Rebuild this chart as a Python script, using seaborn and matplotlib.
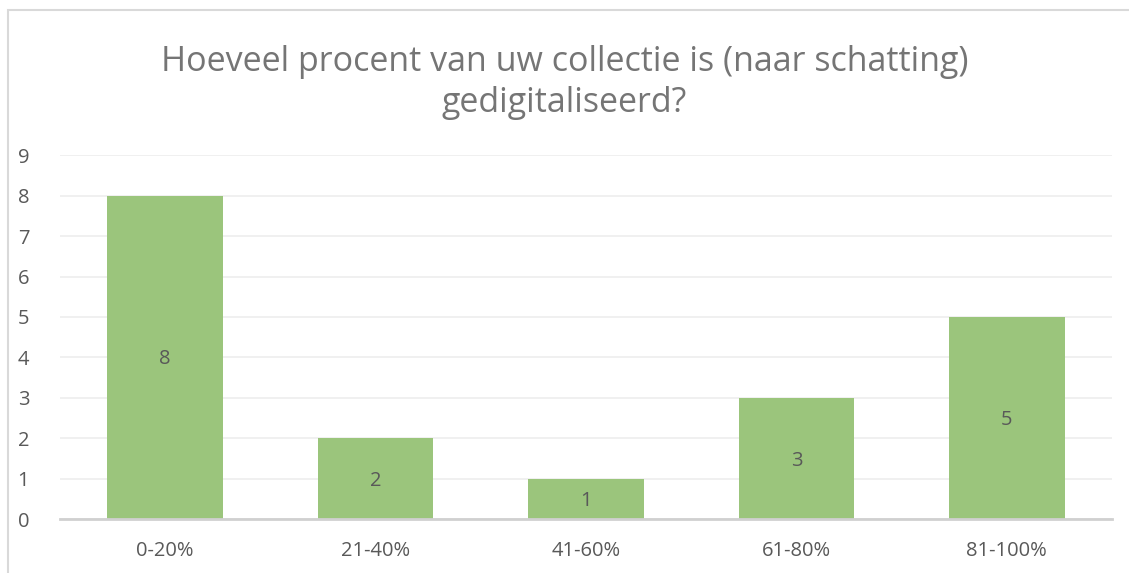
import matplotlib
matplotlib.use('Agg')
import matplotlib.pyplot as plt
import seaborn as sns
import pandas as pd

categories = ['0-20%', '21-40%', '41-60%', '61-80%', '81-100%']
counts = [8, 2, 1, 3, 5]
yticks = list(range(0, 10))
title = 'Hoeveel procent van uw collectie is (naar schatting)\ngedigitaliseerd?'

sns.set_style('white')
plt.rcParams['font.family'] = ['Open Sans', 'DejaVu Sans']

df = pd.DataFrame({'categorie': categories, 'aantal': counts})

fig = plt.figure(figsize=(11.29, 5.73), dpi=100)
ax = fig.add_axes([0.053, 0.094, 0.932, 0.635])

sns.barplot(data=df, x='categorie', y='aantal', color='#9BC57C', saturation=1,
            width=0.55, linewidth=0, ax=ax, zorder=3)

ax.set_ylim(0, 9)
ax.set_yticks(yticks)
ax.yaxis.grid(True, color='#EEEEEE', linewidth=1.2, zorder=0)
ax.set_xlabel('')
ax.set_ylabel('')
ax.tick_params(axis='both', length=0, labelsize=14.5, colors='#595959')
ax.tick_params(axis='x', pad=16)
ax.tick_params(axis='y', pad=22)
for s in ['left', 'right', 'top']:
    ax.spines[s].set_visible(False)
ax.spines['bottom'].set_color('#D0D0D0')
ax.spines['bottom'].set_linewidth(2)
ax.spines['bottom'].set_zorder(4)

# labels in het midden van de balken
for cont in ax.containers:
    for bar, v in zip(cont, counts):
        ax.text(bar.get_x() + bar.get_width() / 2, v / 2 - 0.05, str(v),
                ha='center', va='center', fontsize=14.5, color='#595959', zorder=5)

fig.text(0.5, 0.856, title, ha='center', va='center', fontsize=24.5,
         color='#757575', linespacing=1.28)

# rand om de grafiek
border = plt.Rectangle((0.007, -0.1), 1.2, 1.082, transform=fig.transFigure,
                       fill=False, edgecolor='#D9D9D9', linewidth=1.5)
fig.patches.append(border)

fig.savefig('out.png', dpi=100)
